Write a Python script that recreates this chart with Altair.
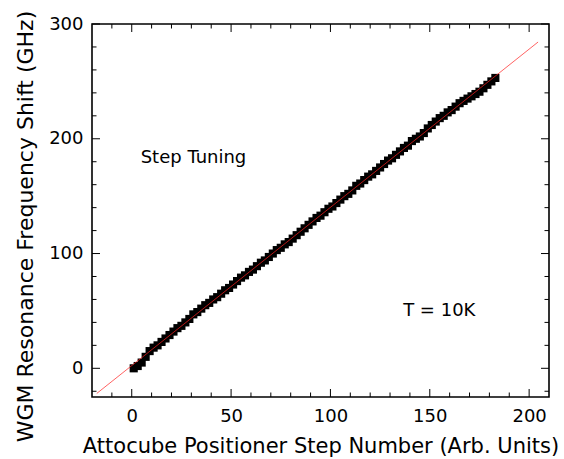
import altair as alt
import pandas as pd

# Measured resonance shift vs. positioner step
step = [1, 3, 5, 7, 9, 11, 13, 15, 17, 19, 21, 23, 25, 27, 29, 31, 33, 35, 37, 39,
        41, 43, 45, 47, 49, 51, 53, 55, 57, 59, 61, 63, 65, 67, 69, 71, 73, 75, 77, 79,
        81, 83, 85, 87, 89, 91, 93, 95, 97, 99, 101, 103, 105, 107, 109, 111, 113, 115,
        117, 119, 121, 123, 125, 127, 129, 131, 133, 135, 137, 139, 141, 143, 145, 147,
        149, 151, 153, 155, 157, 159, 161, 163, 165, 167, 169, 171, 173, 175, 177, 179,
        181, 183]
shift = [0, 2, 5, 10, 15, 18, 20, 23, 26, 29, 32, 35, 37, 40, 43, 47, 49, 52, 55, 57,
         60, 62, 65, 68, 70, 73, 76, 79, 81, 84, 86, 89, 92, 94, 97, 100, 103, 105, 108, 110,
         113, 116, 119, 122, 125, 128, 131, 133, 136, 139, 141, 144, 147, 150, 152, 155, 159, 161,
         164, 167, 169, 172, 175, 178, 181, 183, 186, 189, 192, 194, 198, 200, 202, 205,
         209, 212, 215, 218, 220, 223, 225, 228, 231, 233, 235, 237, 239, 241, 244, 247,
         250, 253]

# Linear fit end points
fit_step = [-17.6, 204.5]
fit_shift = [-21.9, 284.3]

# Axis ticks
x_major = [0, 50, 100, 150, 200]
x_minor = [-10, 10, 20, 30, 40, 60, 70, 80, 90, 110, 120, 130, 140, 160, 170, 180, 190]
y_major = [0, 100, 200, 300]
y_minor = [-20, 20, 40, 60, 80, 120, 140, 160, 180, 220, 240, 260, 280]

W, H = 457, 373
FONT = "DejaVu Sans"

x_scale = alt.Scale(domain=[-20, 210], nice=False, zero=False)
y_scale = alt.Scale(domain=[-25, 300], nice=False, zero=False)

x_axis = alt.Axis(values=x_major, ticks=False, grid=False, domain=False,
                  labelFont=FONT, labelFontSize=18, labelColor="black", labelPadding=10,
                  title="Attocube Positioner Step Number (Arb. Units)",
                  titleFont=FONT, titleFontSize=21, titleFontWeight="normal",
                  titleColor="black", titleBaseline="alphabetic", titleY=55)
y_axis = alt.Axis(values=y_major, ticks=False, grid=False, domain=False,
                  labelFont=FONT, labelFontSize=18, labelColor="black", labelPadding=9,
                  labelOverlap=False, labelBound=False, labelFlush=False,
                  title="WGM Resonance Frequency Shift (GHz)",
                  titleFont=FONT, titleFontSize=22, titleFontWeight="normal",
                  titleColor="black", titleAngle=270, titleBaseline="alphabetic",
                  titleAlign="center", titleX=-60, titleY=202)


def X(field):
    return alt.X(field, type="quantitative", scale=x_scale, axis=x_axis)


def Y(field):
    return alt.Y(field, type="quantitative", scale=y_scale, axis=y_axis)


data = pd.DataFrame({"step": step, "shift": shift})
fit = pd.DataFrame({"step": fit_step, "shift": fit_shift})

points = alt.Chart(data).mark_square(size=66, color="black", opacity=1).encode(
    x=X("step"), y=Y("shift"))

fit_line = alt.Chart(fit).mark_line(color="#ff2020", strokeWidth=0.7).encode(
    x=X("step"), y=Y("shift"))


def x_ticks(values, length):
    df = pd.DataFrame({"v": values})
    bottom = alt.Chart(df).mark_rule(color="black", strokeWidth=1).encode(
        x=X("v"), y=alt.value(H), y2=alt.value(H - length))
    top = alt.Chart(df).mark_rule(color="black", strokeWidth=1).encode(
        x=X("v"), y=alt.value(0), y2=alt.value(length))
    return [bottom, top]


def y_ticks(values, length):
    df = pd.DataFrame({"v": values})
    left = alt.Chart(df).mark_rule(color="black", strokeWidth=1).encode(
        y=Y("v"), x=alt.value(0), x2=alt.value(length))
    right = alt.Chart(df).mark_rule(color="black", strokeWidth=1).encode(
        y=Y("v"), x=alt.value(W), x2=alt.value(W - length))
    return [left, right]


labels = pd.DataFrame({"x": [4.5, 136.6], "y": [183.5, 49.6],
                       "text": ["Step Tuning", "T = 10K"]})
notes = alt.Chart(labels).mark_text(font=FONT, fontSize=18, color="black",
                                    align="left", baseline="middle").encode(
    x=X("x"), y=Y("y"), text="text:N")

layers = (x_ticks(x_major, 8) + x_ticks(x_minor, 4.5)
          + y_ticks(y_major, 8) + y_ticks(y_minor, 4.5)
          + [points, fit_line, notes])

chart = alt.layer(*layers).properties(
    width=W, height=H,
    autosize=alt.AutoSizeParams(type="none"),
    padding={"left": 92, "top": 24, "right": 15, "bottom": 62},
    background="white",
).configure_view(stroke="black", strokeWidth=1.6)

chart.save("out.html", embed_options={"renderer": "svg", "actions": False})
